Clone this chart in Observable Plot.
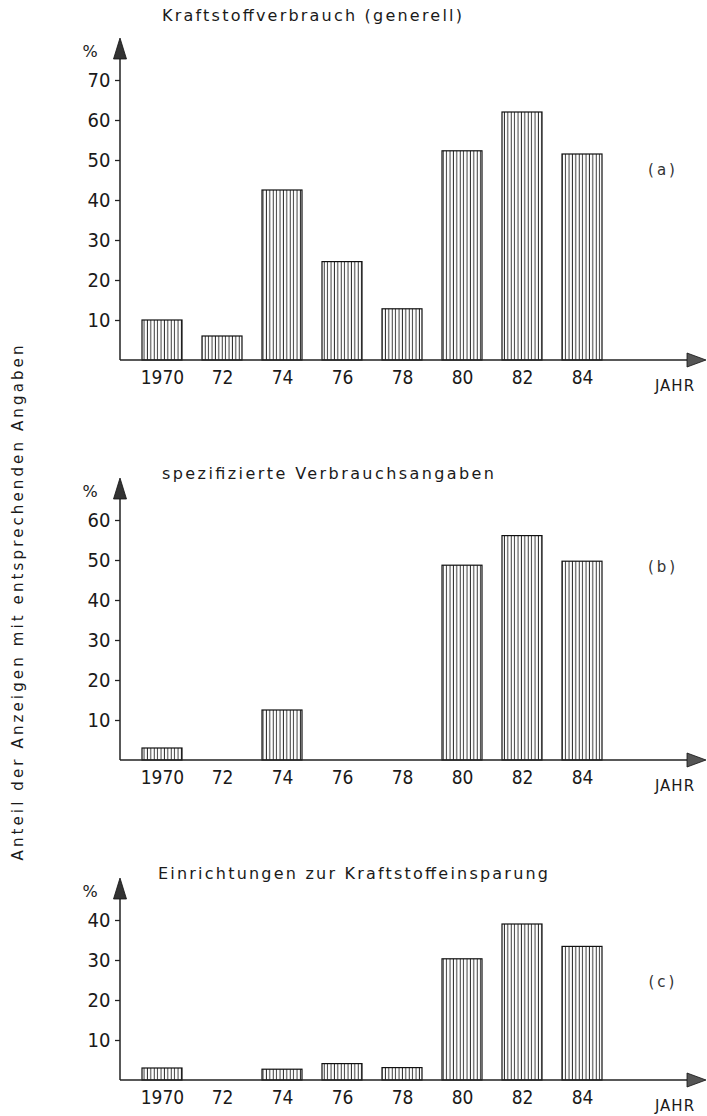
<!DOCTYPE html>
<html>
<head>
<meta charset="utf-8">
<script src="https://cdn.jsdelivr.net/npm/d3@7"></script>
<script src="https://cdn.jsdelivr.net/npm/@observablehq/plot@0.6"></script>
<style>
  html, body { margin: 0; padding: 0; background: #fff; }
  #wrap { position: relative; width: 707px; height: 1116px; overflow: hidden; background: #fff; }
  #wrap svg.panel { position: absolute; left: 0; }
  #overlay { position: absolute; left: 0; top: 0; }
</style>
</head>
<body>
<div id="wrap"></div>
<script>
// ---- data ----
const years = ["1970", "72", "74", "76", "78", "80", "82", "84"];
const valuesA = [10, 6, 42.5, 24.6, 12.8, 52.3, 62, 51.5];
const valuesB = [3, 0, 12.5, 0, 0, 48.7, 56.1, 49.7];
const valuesC = [3, 0, 2.7, 4.1, 3.1, 30.3, 39, 33.4];
const ticksA = [10, 20, 30, 40, 50, 60, 70];
const ticksB = [10, 20, 30, 40, 50, 60];
const ticksC = [10, 20, 30, 40];
const titleA = "Kraftstoffverbrauch (generell)";
const titleB = "spezifizierte Verbrauchsangaben";
const titleC = "Einrichtungen zur Kraftstoffeinsparung";
const tagA = "(a)", tagB = "(b)", tagC = "(c)";
const xAxisLabel = "JAHR";
const yUnit = "%";
const yTitle = "Anteil der Anzeigen mit entsprechenden Angaben";

const FONT = '"Liberation Sans Narrow", "DejaVu Sans Condensed", "Roboto Condensed", "DejaVu Sans", sans-serif';
const TFONT = '"DejaVu Sans", "Liberation Sans", sans-serif';
const INK = "#1a1a1a";

const wrap = document.getElementById("wrap");

// shared pattern defs (vertical hatching)
const defsSvg = d3.select(wrap).append("svg").attr("width", 0).attr("height", 0)
  .style("position", "absolute");
const pat = defsSvg.append("defs").append("pattern")
  .attr("id", "hatch").attr("patternUnits", "userSpaceOnUse")
  .attr("width", 3.4).attr("height", 20);
pat.append("rect").attr("width", 3.4).attr("height", 20).attr("fill", "#fff");
pat.append("line").attr("x1", 1.2).attr("x2", 1.2).attr("y1", 0).attr("y2", 20)
  .attr("stroke", "#222").attr("stroke-width", 0.9);

const panels = [
  {values: valuesA, ticks: ticksA, title: titleA, tag: tagA, top: 0, height: 400, mt: 80, mb: 40, titleX: 162, titleY: 16, titleLen: 300, tagUp: 190},
  {values: valuesB, ticks: ticksB, title: titleB, tag: tagB, top: 400, height: 400, mt: 120, mb: 40, titleX: 162, titleY: 74, titleLen: 332, tagUp: 193},
  {values: valuesC, ticks: ticksC, title: titleC, tag: tagC, top: 800, height: 316, mt: 120, mb: 36, titleX: 158, titleY: 74, titleLen: 390, tagUp: 98}
];

for (const p of panels) {
  const data = years.map((year, i) => ({year, value: p.values[i]})).filter(d => d.value > 0);
  const yMax = p.ticks[p.ticks.length - 1];
  const chart = Plot.plot({
    width: 707,
    height: p.height,
    marginLeft: 120,
    marginRight: 82,
    marginTop: p.mt,
    marginBottom: p.mb,
    style: {background: "transparent", fontFamily: FONT, color: INK, overflow: "visible"},
    x: {type: "band", domain: years, padding: 0.33, label: null},
    y: {domain: [0, yMax], label: null},
    marks: [
      Plot.barY(data, {x: "year", y: "value", fill: "url(#hatch)", stroke: "#111", strokeWidth: 1.2}),
      Plot.axisX({tickSize: 0, tickPadding: 10, fontSize: 19, label: null, fill: INK}),
      Plot.axisY({ticks: p.ticks, tickSize: 5, tickPadding: 5, fontSize: 20, label: null, fill: INK, stroke: "#222", strokeWidth: 1.3})
    ]
  });
  chart.classList.add("panel");
  chart.style.top = p.top + "px";
  wrap.appendChild(chart);

  const svg = d3.select(chart);
  const y = chart.scale("y");
  const x0 = 120;
  const base = y.apply(0);
  const tip = y.apply(yMax) - 42;
  const W = 707;
  const g = svg.append("g").attr("text-anchor", "start");

  // y axis line + arrow
  g.append("line").attr("x1", x0).attr("x2", x0).attr("y1", base).attr("y2", tip + 18)
    .attr("stroke", "#222").attr("stroke-width", 1.5);
  g.append("path").attr("d", `M${x0},${tip}L${x0 - 6.5},${tip + 21}L${x0 + 6.5},${tip + 21}Z`)
    .attr("fill", "#333").attr("stroke", "#111").attr("stroke-width", 0.8);
  // x axis line + arrow
  g.append("line").attr("x1", x0).attr("x2", W - 18).attr("y1", base).attr("y2", base)
    .attr("stroke", "#222").attr("stroke-width", 1.5);
  g.append("path").attr("d", `M${W - 1},${base}L${W - 20},${base - 7}L${W - 20},${base + 7}Z`)
    .attr("fill", "#555").attr("stroke", "#111").attr("stroke-width", 0.8);

  // % unit
  g.append("text").attr("x", 90).attr("y", tip + 14).attr("text-anchor", "middle")
    .attr("dominant-baseline", "middle").attr("font-family", TFONT).attr("font-size", 16)
    .attr("fill", INK).text(yUnit);
  // JAHR
  g.append("text").attr("x", 675).attr("y", base + 26).attr("text-anchor", "middle")
    .attr("dominant-baseline", "middle").attr("font-family", TFONT).attr("font-size", 15)
    .attr("letter-spacing", 1).attr("fill", INK).text(xAxisLabel);
  // title
  g.append("text").attr("x", p.titleX).attr("y", p.titleY).attr("text-anchor", "start")
    .attr("dominant-baseline", "middle")
    .attr("font-family", TFONT).attr("font-size", 16).attr("fill", INK)
    .attr("textLength", p.titleLen).attr("lengthAdjust", "spacing").text(p.title);
  // tag
  g.append("text").attr("x", 663).attr("y", base - p.tagUp).attr("text-anchor", "middle")
    .attr("dominant-baseline", "middle").attr("font-family", TFONT).attr("font-size", 15)
    .attr("letter-spacing", 3).attr("fill", "#333").text(p.tag);
}

// rotated y-axis title
const ov = d3.select(wrap).append("svg").attr("id", "overlay").attr("width", 40).attr("height", 1116);
ov.append("text").attr("transform", "translate(18,603) rotate(-90)")
  .attr("text-anchor", "middle").attr("dominant-baseline", "middle")
  .attr("font-family", TFONT).attr("font-size", 15).attr("fill", INK)
  .attr("textLength", 515).attr("lengthAdjust", "spacing").text(yTitle);
</script>
</body>
</html>
